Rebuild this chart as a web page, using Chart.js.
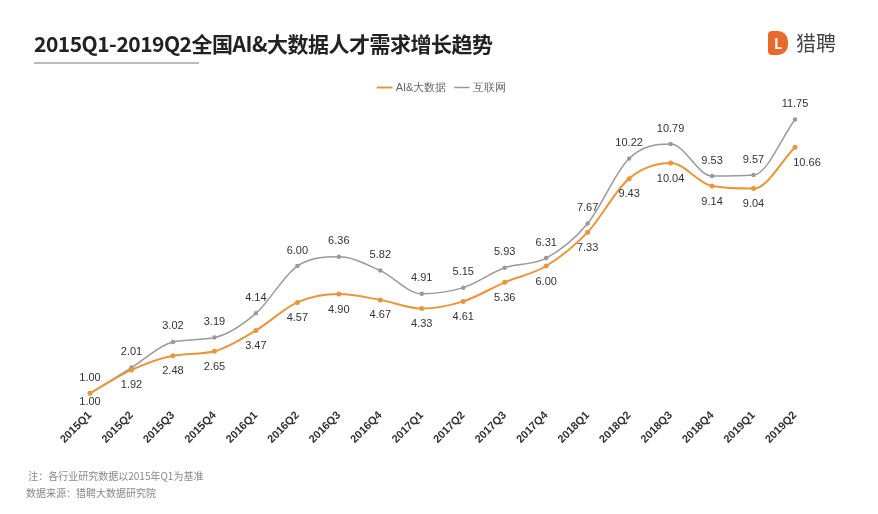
<!DOCTYPE html>
<html><head><meta charset="utf-8">
<script src="https://cdn.jsdelivr.net/npm/chart.js@4.4.0/dist/chart.umd.min.js"></script>
<style>
body{margin:0;background:#fff;font-family:"Noto Sans CJK SC","Noto Sans",sans-serif;}
#wrap{position:relative;width:878px;height:514px;}
canvas{position:absolute;left:0;top:0;}
#title{position:absolute;left:34px;top:28px;font-size:21px;font-weight:bold;color:#222;letter-spacing:-0.5px}
#uline{position:absolute;left:34px;top:62px;width:165px;height:2px;background:#bbb}
#logo{position:absolute;left:768px;top:28px;font-size:20px;color:#444;display:flex;align-items:center}
#logo span.i{display:inline-block;width:20px;height:24px;background:#e8692a;border-radius:4px 10px 10px 4px;color:#fff;font-size:14px;text-align:center;line-height:24px;margin-right:8px;font-weight:bold}
#note{position:absolute;left:26px;top:467px;font-size:10px;color:#888;line-height:17px}
</style></head><body>
<div id="wrap">
<canvas id="c" width="878" height="514"></canvas>
<div id="title">2015Q1-2019Q2全国AI&amp;大数据人才需求增长趋势</div>
<div id="uline"></div>
<div id="logo"><span class="i">L</span>猎聘</div>
<div id="note">&nbsp;注：各行业研究数据以2015年Q1为基准<br>数据来源：猎聘大数据研究院</div>
</div>
<script>
const categories=["2015Q1","2015Q2","2015Q3","2015Q4","2016Q1","2016Q2","2016Q3","2016Q4","2017Q1","2017Q2","2017Q3","2017Q4","2018Q1","2018Q2","2018Q3","2018Q4","2019Q1","2019Q2"];
const aiValues=[1.00,1.92,2.48,2.65,3.47,4.57,4.90,4.67,4.33,4.61,5.36,6.00,7.33,9.43,10.04,9.14,9.04,10.66];
const netValues=[1.00,2.01,3.02,3.19,4.14,6.00,6.36,5.82,4.91,5.15,5.93,6.31,7.67,10.22,10.79,9.53,9.57,11.75];
const labelPlugin={id:'lbl',afterDatasetsDraw(ch){
 const ctx=ch.ctx;ctx.save();ctx.font='11px "Liberation Sans",Arial';ctx.fillStyle='#333';ctx.textAlign='center';
 ch.data.datasets.forEach((ds,i)=>{const m=ch.getDatasetMeta(i);
  m.data.forEach((p,j)=>{const v=ds.data[j].toFixed(2);
   if(i===0){ctx.textBaseline='top';ctx.fillText(v,p.x+(j===17?12:0),p.y+(j===0?3:10));}
   else{ctx.textBaseline='bottom';ctx.fillText(v,p.x,p.y-10);}
  });});
 ctx.restore();}};
new Chart(document.getElementById('c'),{type:'line',
 data:{labels:categories,datasets:[
  {label:'AI&大数据',data:aiValues,borderColor:'#e8963e',backgroundColor:'#e8963e',borderWidth:2,pointRadius:1.5,tension:0.4,cubicInterpolationMode:'monotone'},
  {label:'互联网',data:netValues,borderColor:'#9a9a9a',backgroundColor:'#9a9a9a',borderWidth:1.5,pointRadius:1.5,tension:0.4,cubicInterpolationMode:'monotone'}]},
 options:{responsive:false,animation:false,
  layout:{padding:{left:90,right:83,top:72,bottom:68}},
  plugins:{legend:{display:true,labels:{usePointStyle:true,pointStyle:'line',boxWidth:16,color:'#666',font:{size:11}},padding:4},title:{display:false},tooltip:{enabled:false}},
  scales:{x:{offset:false,grid:{display:false},border:{display:false},
    ticks:{maxRotation:45,minRotation:45,color:'#333',font:{size:11,weight:'bold'},padding:0}},
   y:{display:false,min:0.7,max:12.4}}}
 ,plugins:[labelPlugin]});
</script></body></html>
